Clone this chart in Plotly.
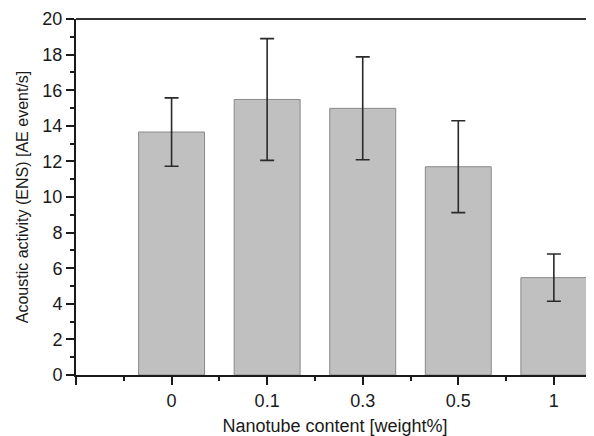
import plotly.graph_objects as go

categories = ["0", "0.1", "0.3", "0.5", "1"]
values = [13.65, 15.48, 14.98, 11.70, 5.47]
errors = [1.92, 3.42, 2.89, 2.58, 1.33]
y_ticks = [0, 2, 4, 6, 8, 10, 12, 14, 16, 18, 20]

positions = list(range(len(categories)))

fig = go.Figure()
fig.add_trace(go.Bar(
    x=positions, y=values, width=0.69,
    marker=dict(color="#c0c0c0", line=dict(color="#8a8a8a", width=1)),
    error_y=dict(type="data", array=errors, visible=True,
                 color="#2a2a2a", thickness=1.6, width=7),
    showlegend=False,
))

# page body has an 8px default margin, so the figure is sized to fit the window
font = "Liberation Sans, Arial, Helvetica, sans-serif"
fig.update_layout(
    width=586, height=428,
    margin=dict(l=68, r=0, t=11, b=61),
    paper_bgcolor="white", plot_bgcolor="white",
    font=dict(family=font, size=15, color="#1a1a1a"),
    xaxis=dict(
        range=[-1, 4.42],
        automargin=False,
        tickmode="array",
        tickvals=[-1] + positions,
        ticktext=[""] + categories,
        ticks="outside", ticklen=8, tickwidth=1.5, tickcolor="#1a1a1a",
        minor=dict(tickmode="array", tickvals=[-0.5, 0.5, 1.5, 2.5, 3.5],
                   ticks="outside", ticklen=4, tickwidth=1.5, tickcolor="#1a1a1a"),
        showline=True, linecolor="#1a1a1a", linewidth=2,
        showgrid=False, zeroline=False,
        title=dict(text="Nanotube content [weight%]", standoff=12,
                   font=dict(size=18)),
        tickfont=dict(size=18),
    ),
    yaxis=dict(
        range=[0, 20],
        automargin=False,
        tickmode="array", tickvals=y_ticks,
        ticks="outside", ticklen=8, tickwidth=1.5, tickcolor="#1a1a1a",
        minor=dict(dtick=1, ticks="outside", ticklen=4, tickwidth=1.5,
                   tickcolor="#1a1a1a", showgrid=False),
        showline=True, linecolor="#1a1a1a", linewidth=2,
        showgrid=False, zeroline=False,
        title=dict(text="Acoustic activity (ENS) [AE event/s]", standoff=10,
                   font=dict(size=16)),
        tickfont=dict(size=18),
    ),
    shapes=[dict(type="line", xref="x domain", yref="y domain",
                 x0=0, x1=1, y0=1, y1=1,
                 line=dict(color="#333333", width=2))],
)

fig.write_html("out.html")
